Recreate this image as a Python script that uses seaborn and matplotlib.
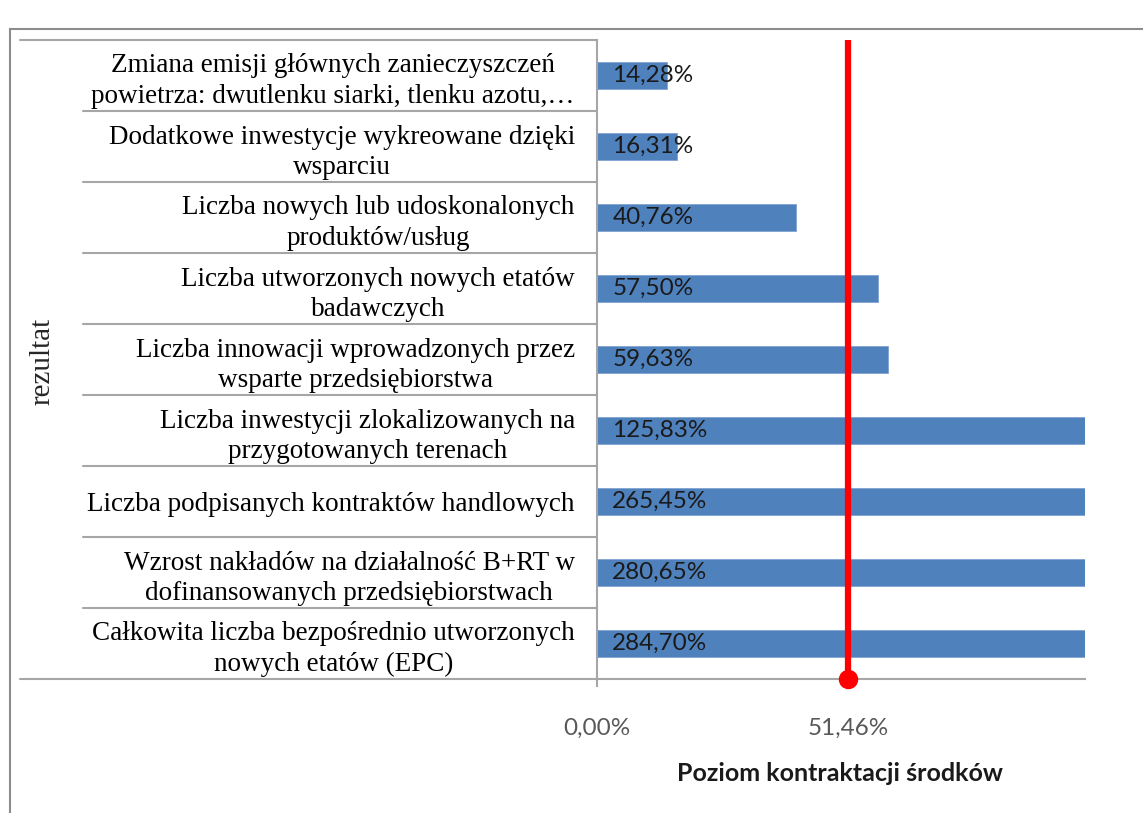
import matplotlib
matplotlib.use("Agg")
import matplotlib.pyplot as plt
from matplotlib.patches import Rectangle
import seaborn as sns
import pandas as pd

# data
rezultaty = [
    "Zmiana emisji głównych zanieczyszczeń\npowietrza: dwutlenku siarki, tlenku azotu,…",
    "Dodatkowe inwestycje wykreowane dzięki\nwsparciu",
    "Liczba nowych lub udoskonalonych\nproduktów/usług",
    "Liczba utworzonych nowych etatów\nbadawczych",
    "Liczba innowacji wprowadzonych przez\nwsparte przedsiębiorstwa",
    "Liczba inwestycji zlokalizowanych na\nprzygotowanych terenach",
    "Liczba podpisanych kontraktów handlowych",
    "Wzrost nakładów na działalność B+RT w\ndofinansowanych przedsiębiorstwach",
    "Całkowita liczba bezpośrednio utworzonych\nnowych etatów (EPC)",
]
kontraktacja = [14.28, 16.31, 40.76, 57.50, 59.63, 125.83, 265.45, 280.65, 284.70]
poziom_srodkow = 51.46
xtick_vals = [0.0, poziom_srodkow]
xtick_labels = ["0,00%", "51,46%"]

df = pd.DataFrame({"rezultat": rezultaty, "wartosc": kontraktacja})

sns.set_theme(style="white")
plt.rcParams["font.family"] = ["Lato", "DejaVu Sans"]

fig = plt.figure(figsize=(11.43, 8.13), dpi=100)
ax = fig.add_axes([597 / 1143, 1 - 679 / 813, 488 / 1143, 639 / 813])

sns.barplot(data=df, x="wartosc", y="rezultat", orient="h", color="#4F81BD",
            saturation=1, width=0.38, edgecolor="#7FA3D1", linewidth=0.6, ax=ax)
ax.set_xlim(0, 100)
ax.set_ylim(len(rezultaty) - 0.5, -0.5)

# target level line with dot on the axis
ax.axvline(poziom_srodkow, color="#FF0000", lw=4.5, zorder=5)
ax.plot(poziom_srodkow, 0, marker="o", ms=13, color="#FF0000",
        transform=ax.get_xaxis_transform(), clip_on=False, zorder=6)

# value labels at the bar base
for i, v in enumerate(kontraktacja):
    ax.annotate(f"{v:.2f}%".replace(".", ","), xy=(0, i), xytext=(11, 0),
                textcoords="offset points", va="center", ha="left",
                fontsize=17.5, color="#1a1a1a", zorder=7)

# axes styling
grey = "#A6A6A6"
for s in ["top", "right"]:
    ax.spines[s].set_visible(False)
for s in ["left", "bottom"]:
    ax.spines[s].set_color(grey)
    ax.spines[s].set_linewidth(1.5)

ax.set_xticks(xtick_vals)
ax.set_xticklabels(xtick_labels)
ax.tick_params(axis="x", direction="out", length=6, width=1.5, color=grey,
               pad=22, labelsize=17.5, labelcolor="#595959", bottom=True)
ax.tick_params(axis="y", length=0, pad=16, labelsize=19.5)
for lab in ax.get_yticklabels():
    lab.set_ha("right")
    lab.set_multialignment("center")
    lab.set_family(["Liberation Serif", "DejaVu Serif"])
    lab.set_linespacing(1.3)
    lab.set_color("black")

ax.set_xlabel("Poziom kontraktacji środków", fontsize=18, fontweight="bold",
              color="#1a1a1a")
ax.xaxis.set_label_coords(243 / 488, -94 / 639)
ax.xaxis.label.set_va("center")
ax.set_ylabel("")
fig.text(42 / 1143, 1 - 361 / 813, "rezultat", rotation=90, ha="center",
         va="center", fontsize=21, family=["Liberation Serif", "DejaVu Serif"])

# category separators in the label area
ytr = ax.get_yaxis_transform()
for b in range(1, len(rezultaty)):
    ax.plot([-1.053, 0], [b - 0.5, b - 0.5], color=grey, lw=1.5,
            transform=ytr, clip_on=False)
ax.plot([-1.182, 0], [1, 1], color=grey, lw=1.5, transform=ax.transAxes, clip_on=False)
ax.plot([-1.182, 0], [0, 0], color=grey, lw=1.5, transform=ax.transAxes, clip_on=False)

# chart frame
fig.patches.append(Rectangle((10 / 1143, -0.05), 1.2, 1 - 29 / 813 + 0.05,
                             transform=fig.transFigure, fill=False,
                             edgecolor="#8C8C8C", lw=1.5))

fig.savefig("out.png", dpi=100)
